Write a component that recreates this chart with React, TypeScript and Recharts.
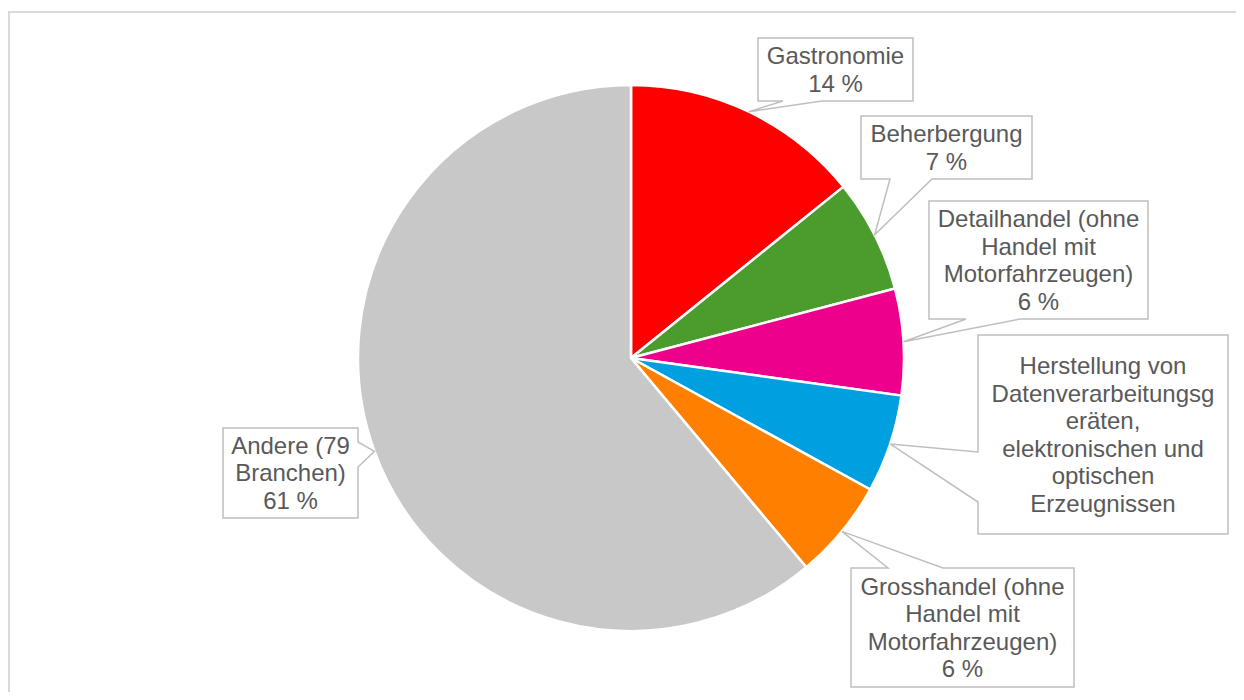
import React from "react";
import { PieChart, Pie, Cell } from "recharts";

// ---- data ----
const categories = [
  "Gastronomie",
  "Beherbergung",
  "Detailhandel (ohne Handel mit Motorfahrzeugen)",
  "Herstellung von Datenverarbeitungsgeräten, elektronischen und optischen Erzeugnissen",
  "Grosshandel (ohne Handel mit Motorfahrzeugen)",
  "Andere (79 Branchen)",
];
const shares = [14.2, 6.7, 6.3, 5.8, 5.9, 61.1];
const labelLines = [
  ["Gastronomie"],
  ["Beherbergung"],
  ["Detailhandel (ohne", "Handel mit", "Motorfahrzeugen)"],
  ["Herstellung von", "Datenverarbeitungsg", "eräten,", "elektronischen und", "optischen", "Erzeugnissen"],
  ["Grosshandel (ohne", "Handel mit", "Motorfahrzeugen)"],
  ["Andere (79", "Branchen)"],
];
const showPercent = [true, true, true, false, true, true];

// ---- styling / layout ----
const colors = ["#ff0000", "#4a9d2d", "#ec008c", "#00a0e0", "#ff8000", "#c8c8c8"];
// callout boxes, relative to pie centre: x, y, w, h, side of pointer, base offsets
const boxes = [
  { x: 127, y: -320, w: 155, h: 63, side: "bottom", b1: 25, b2: 64 },
  { x: 230, y: -242, w: 171, h: 63, side: "bottom", b1: 29, b2: 71 },
  { x: 298, y: -157, w: 219, h: 118, side: "bottom", b1: 37, b2: 91 },
  { x: 347, y: -23, w: 250, h: 199, side: "left", b1: 117, b2: 167 },
  { x: 220, y: 210, w: 223, h: 119, side: "top", b1: 37, b2: 92 },
  { x: -408, y: 70, w: 135, h: 90, side: "right", b1: 14, b2: 39 },
];

const data = categories.map((name, i) => ({ name, value: shares[i] }));
const total = shares.reduce((a, b) => a + b, 0);

const RAD = Math.PI / 180;
const FONT = "'Liberation Sans', Arial, Helvetica, sans-serif";
const LINE_H = 27.5;

function Callout(props: any) {
  const { cx, cy, midAngle, outerRadius, index, value } = props;
  const b = boxes[index];
  const tx = cx + outerRadius * Math.cos(-midAngle * RAD);
  const ty = cy + outerRadius * Math.sin(-midAngle * RAD);
  const x0 = cx + b.x;
  const y0 = cy + b.y;
  const x1 = x0 + b.w;
  const y1 = y0 + b.h;
  let d = "";
  if (b.side === "bottom") {
    d = `M${x0},${y0} H${x1} V${y1} H${x0 + b.b2} L${tx},${ty} L${x0 + b.b1},${y1} H${x0} Z`;
  } else if (b.side === "top") {
    d = `M${x0},${y0} H${x0 + b.b1} L${tx},${ty} L${x0 + b.b2},${y0} H${x1} V${y1} H${x0} Z`;
  } else if (b.side === "left") {
    d = `M${x0},${y0} H${x1} V${y1} H${x0} V${y0 + b.b2} L${tx},${ty} L${x0},${y0 + b.b1} Z`;
  } else {
    d = `M${x0},${y0} H${x1} V${y0 + b.b1} L${tx},${ty} L${x1},${y0 + b.b2} V${y1} H${x0} Z`;
  }
  const lines = [...labelLines[index]];
  if (showPercent[index]) lines.push(`${Math.round((value / total) * 100)} %`);
  const first = y0 + (b.h - lines.length * LINE_H) / 2 + 22;
  return (
    <g>
      <path d={d} fill="#ffffff" stroke="#bfbfbf" strokeWidth={1.5} />
      <text
        x={(x0 + x1) / 2}
        y={first}
        textAnchor="middle"
        fill="#595959"
        fontSize={24}
        fontFamily={FONT}
      >
        {lines.map((l, i) => (
          <tspan key={i} x={(x0 + x1) / 2} y={first + i * LINE_H}>
            {l}
          </tspan>
        ))}
      </text>
    </g>
  );
}

export default function App() {
  return (
    <div style={{ position: "relative", width: 1236, height: 684, overflow: "hidden", background: "#fff" }}>
      <div
        style={{
          position: "absolute",
          left: 0,
          top: 3,
          width: 1260,
          height: 720,
          border: "2px solid #d9d9d9",
          boxSizing: "border-box",
        }}
      />
      <div style={{ position: "absolute", left: 0, top: 0 }}>
        <PieChart width={1236} height={684} margin={{ top: 0, right: 0, bottom: 0, left: 0 }}>
          <Pie
            data={data}
            dataKey="value"
            nameKey="name"
            cx={623}
            cy={350}
            outerRadius={273}
            startAngle={90}
            endAngle={-270}
            stroke="#ffffff"
            strokeWidth={2.5}
            label={Callout}
            labelLine={false}
            isAnimationActive={false}
          >
            {data.map((_, i) => (
              <Cell key={i} fill={colors[i]} />
            ))}
          </Pie>
        </PieChart>
      </div>
    </div>
  );
}
